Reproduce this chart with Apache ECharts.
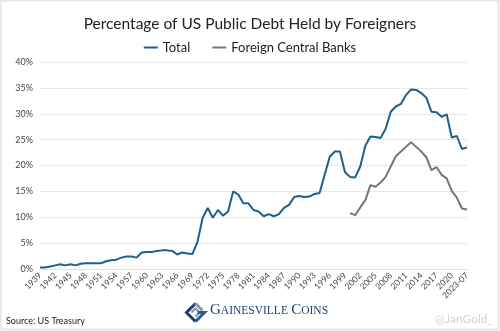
<!DOCTYPE html>
<html>
<head>
<meta charset="utf-8">
<script src="https://cdn.jsdelivr.net/npm/echarts@6/dist/echarts.min.js"></script>
<style>
  html, body { margin: 0; padding: 0; background: #fff; }
  #chart { width: 500px; height: 331px; }
</style>
</head>
<body>
<div id="chart"></div>
<script>
// Years 1939..2022, then the mid-2023 reading
const years = [];
for (let y = 1939; y <= 2022; y++) years.push(String(y));
years.push('2023-07');

// Share of public debt held by foreigners, percent
const totalShare = [
  0.3, 0.3, 0.5, 0.7, 0.9, 0.7, 0.9, 0.7, 1.0, 1.1,
  1.1, 1.1, 1.1, 1.5, 1.7, 1.8, 2.2, 2.4, 2.4, 2.2,
  3.2, 3.3, 3.3, 3.5, 3.6, 3.6, 3.5, 2.8, 3.2, 3.0,
  2.9, 5.3, 9.9, 11.8, 9.9, 11.4, 10.3, 11.1, 15.0, 14.4,
  12.7, 12.7, 11.4, 11.1, 10.2, 10.6, 10.2, 10.6, 11.8, 12.4,
  13.9, 14.1, 13.9, 14.0, 14.5, 14.7, 18.2, 21.7, 22.7, 22.7,
  18.7, 17.8, 17.7, 19.8, 23.8, 25.6, 25.5, 25.3, 27.1, 30.4,
  31.4, 31.9, 33.6, 34.7, 34.6, 34.0, 33.1, 30.4, 30.3, 29.4,
  29.9, 25.4, 25.7, 23.2, 23.5
];

// Share held by foreign central banks, reported from 2000 on
const centralBankYears = [
  '2000', '2001', '2002', '2003', '2004', '2005', '2006', '2007', '2008', '2009',
  '2010', '2011', '2012', '2013', '2014', '2015', '2016', '2017', '2018', '2019',
  '2020', '2021', '2022', '2023-07'
];
const centralBankShare = [
  10.8, 10.4, 11.9, 13.3, 16.2, 15.9, 16.7, 17.8, 19.8, 21.8,
  22.7, 23.6, 24.5, 23.6, 22.7, 21.6, 19.1, 19.7, 18.2, 17.5,
  15.1, 13.8, 11.7, 11.5
];

const yTicks = { min: 0, max: 40, step: 5 };

const centralBankSeries = years.map(y => {
  const i = centralBankYears.indexOf(y);
  return i < 0 ? null : centralBankShare[i];
});

const FONT = 'Lato, "Open Sans", sans-serif';
const chart = echarts.init(document.getElementById('chart'), null, { renderer: 'canvas' });

chart.setOption({
  backgroundColor: '#fff',
  animation: false,
  title: {
    text: 'Percentage of US Public Debt Held by Foreigners',
    left: 'center',
    top: 11,
    textStyle: { fontFamily: FONT, fontSize: 15.5, fontWeight: 'normal', color: '#222' }
  },
  legend: {
    top: 36,
    left: 'center',
    itemWidth: 14,
    itemHeight: 2,
    itemGap: 22,
    icon: 'rect',
    textStyle: { fontFamily: FONT, fontSize: 13, color: '#222', padding: [0, 0, 0, 0] },
    data: ['Total', 'Foreign Central Banks']
  },
  grid: { left: 40, right: 33, top: 62, bottom: 62, containLabel: false },
  xAxis: {
    type: 'category',
    data: years,
    boundaryGap: false,
    axisLine: { lineStyle: { color: '#e2e2e2', width: 1 } },
    axisTick: { show: false },
    axisLabel: {
      interval: 2,
      rotate: 45,
      margin: 5,
      fontFamily: FONT,
      fontSize: 8.5,
      color: '#444'
    },
    splitLine: { show: false }
  },
  yAxis: {
    type: 'value',
    min: yTicks.min,
    max: yTicks.max,
    interval: yTicks.step,
    axisLine: { show: false },
    axisTick: { show: false },
    axisLabel: {
      formatter: '{value}%',
      margin: 7,
      fontFamily: FONT,
      fontSize: 9,
      color: '#444'
    },
    splitLine: { lineStyle: { color: '#e8e8e8', width: 1 } }
  },
  series: [
    {
      name: 'Total',
      type: 'line',
      data: totalShare,
      showSymbol: false,
      symbol: 'none',
      lineStyle: { color: '#1d5f8e', width: 2 },
      itemStyle: { color: '#1d5f8e' }
    },
    {
      name: 'Foreign Central Banks',
      type: 'line',
      data: centralBankSeries,
      showSymbol: false,
      symbol: 'none',
      connectNulls: false,
      lineStyle: { color: '#767676', width: 2 },
      itemStyle: { color: '#767676' }
    }
  ],
  graphic: [
    // thin frame round the whole chart
    {
      type: 'rect',
      shape: { x: 0.5, y: 0.5, width: 498, height: 329 },
      style: { fill: 'none', stroke: '#e6e6e6', lineWidth: 2 },
      silent: true
    },
    {
      type: 'text',
      left: 6,
      top: 317,
      style: { text: 'Source: US Treasury', fontFamily: FONT, fontSize: 9, fill: '#222' }
    },
    {
      type: 'text',
      right: 7,
      top: 313,
      style: { text: '@JanGold_', fontFamily: FONT, fontSize: 12, fill: '#d2d2d2' }
    },
    // brand mark: interlocking diamond "G"
    {
      type: 'group',
      left: 184,
      top: 301,
      children: [
        {
          type: 'polyline',
          shape: { points: [[10, 1], [1, 10], [10, 19]] },
          style: { stroke: '#1f3f6e', lineWidth: 3, fill: 'none' }
        },
        {
          type: 'polyline',
          shape: { points: [[10, 1], [17, 8]] },
          style: { stroke: '#8a96a6', lineWidth: 3, fill: 'none' }
        },
        {
          type: 'polyline',
          shape: { points: [[6, 10], [10, 6], [14, 10], [10, 14]] },
          style: { stroke: '#8a96a6', lineWidth: 2.2, fill: 'none' }
        },
        {
          type: 'polyline',
          shape: { points: [[10, 19], [19, 10], [12, 10]] },
          style: { stroke: '#2c5a8c', lineWidth: 3, fill: 'none' }
        }
      ]
    },
    {
      type: 'text',
      left: 210,
      top: 303,
      style: {
        text: '{b|G}{s|AINESVILLE} {b|C}{s|OINS}',
        rich: {
          b: { fontFamily: '"Liberation Serif", serif', fontSize: 15, fill: '#24426f', color: '#24426f' },
          s: { fontFamily: '"Liberation Serif", serif', fontSize: 11.5, fill: '#24426f', color: '#24426f' }
        }
      }
    }
  ]
});
</script>
</body>
</html>
